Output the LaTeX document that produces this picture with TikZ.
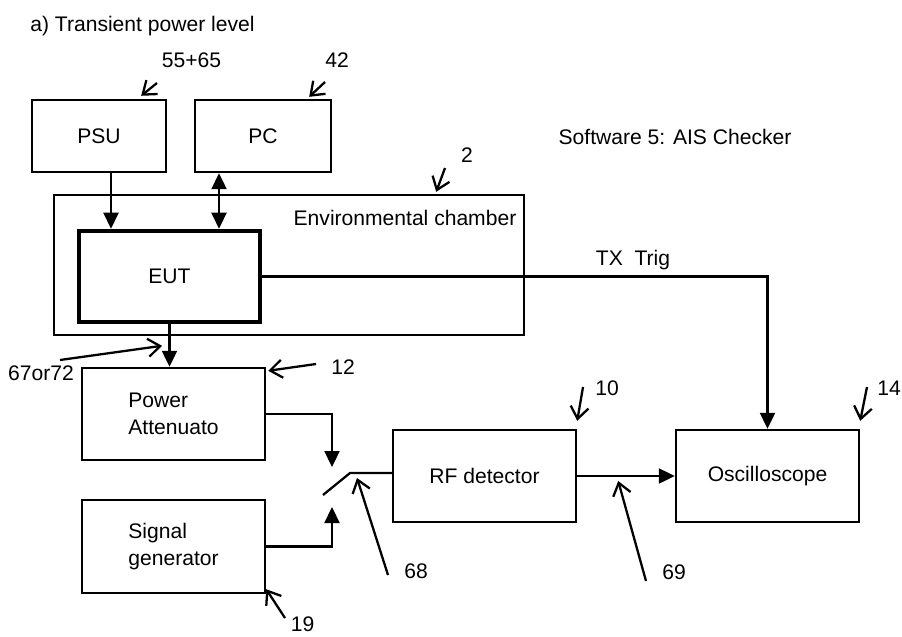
\documentclass[tikz,border=0pt]{standalone}
\usepackage{fontspec}
\setmainfont{Liberation Sans}
\usetikzlibrary{arrows.meta,positioning,calc}

\tikzset{
  blk/.style={draw,line width=1.4pt,minimum width=3.66cm,minimum height=1.84cm,inner sep=0pt},
  tag/.style={inner sep=0pt},
  wire/.style={line width=1.3pt},
  arr/.style={wire,-{Triangle[length=0.32cm,width=0.3cm]}},
  dbl/.style={wire,{Triangle[length=0.32cm,width=0.3cm]}-{Triangle[length=0.32cm,width=0.3cm]}},
  lead/.style={line width=1.3pt,-{Straight Barb[length=0.24cm,width=0.36cm]}},
}

\begin{document}
\begin{tikzpicture}[x=0.02cm,y=-0.02cm,font=\fontsize{12}{15.4}\selectfont]
  \useasboundingbox (0,0) rectangle (902,636);

  \node[tag,anchor=base west] (title) at (30,31) {a) Transient power level};
  \node[tag] (sw) at (675,137) {Software 5: AIS Checker};

  \node[blk,minimum width=2.68cm,minimum height=1.44cm] (psu) at (99,136) {PSU};
  \node[blk,minimum width=2.72cm,minimum height=1.44cm] (pc) at (263,136) {PC};
  \node[blk,minimum width=9.4cm,minimum height=2.8cm] (chamber) at (289,265) {};
  \node[tag] (chlbl) at (405,218) {Environmental chamber};
  \node[blk,line width=2.6pt,minimum width=3.62cm,minimum height=1.82cm] (eut) at (169.5,276.5) {EUT};
  \node[blk,align=left] (att) at (173.5,414) {Power\\Attenuato};
  \node[blk,align=left,minimum height=1.86cm] (gen) at (173.5,546.5) {Signal\\generator};
  \node[blk] (rf) at (484.5,476) {RF detector};
  \node[blk] (osc) at (767.5,476) {Oscilloscope};

  \draw[arr] ([xshift=0.24cm]psu.south) -- ([xshift=0.24cm]psu.south |- eut.north);
  \draw[dbl] ([xshift=-0.88cm]pc.south) -- ([xshift=-0.88cm]pc.south |- eut.north);
  \draw[arr] (eut.south) -- (eut.south |- att.north);
  \draw[arr] (eut.east) -| (osc.north);
  \node[tag,anchor=base] (trig) at (633,265) {TX\ \ Trig};

  \coordinate (swtop) at (332,467);
  \coordinate (swbot) at (332,507);
  \coordinate (blade) at (323,495);
  \coordinate (pivot) at (350,473);
  \draw[arr] (att.east) -| (swtop);
  \draw[arr] (gen.east) -| (swbot);
  \draw[wire] (blade) -- (pivot) -- (pivot -| rf.west);
  \draw[arr] (rf.east) -- (osc.west);

  \node[tag] (n5565) at (191.5,60) {55+65};
  \coordinate (t5565) at (157,83);
  \draw[lead] (t5565) -- ([xshift=-0.52cm,yshift=0.06cm]psu.north east);
  \node[tag] (n42) at (337,60) {42};
  \coordinate (t42) at (325,82);
  \draw[lead] (t42) -- ([xshift=-0.46cm,yshift=0.04cm]pc.north east);
  \node[tag] (n2) at (467,155) {2};
  \coordinate (t2) at (445,168);
  \draw[lead] (t2) -- ([xshift=-1.78cm,yshift=0.04cm]chamber.north east);
  \node[tag] (n12) at (343,367) {12};
  \coordinate (t12) at (316,364);
  \draw[lead] (t12) -- ([xshift=0.04cm,yshift=-0.08cm]att.north east);
  \node[tag] (n6772) at (41,373) {67or72};
  \coordinate (t6772) at (60,360);
  \draw[lead] (t6772) -- ([xshift=-0.23cm,yshift=0.42cm]att.north);
  \node[tag] (n19) at (302.5,624) {19};
  \coordinate (t19) at (285,618);
  \draw[lead] (t19) -- ([yshift=0.1cm]gen.south east);
  \node[tag] (n68) at (416,571) {68};
  \coordinate (t68) at (388,575);
  \draw[lead] (t68) -- ([xshift=0.14cm,yshift=-0.1cm]pivot);
  \node[tag] (n10) at (607,388) {10};
  \coordinate (t10) at (583,387);
  \draw[lead] (t10) -- ([yshift=0.16cm]rf.north east);
  \node[tag] (n69) at (674,572) {69};
  \coordinate (t69) at (646,581);
  \draw[lead] (t69) -- ([xshift=0.82cm,yshift=-0.1cm]rf.east);
  \node[tag] (n14) at (889,388) {14};
  \coordinate (t14) at (867,387);
  \draw[lead] (t14) -- ([yshift=0.16cm]osc.north east);
\end{tikzpicture}
\end{document}
